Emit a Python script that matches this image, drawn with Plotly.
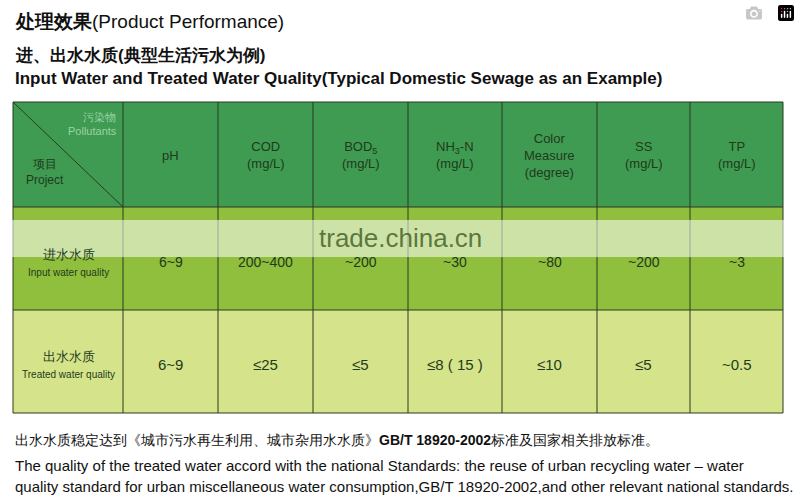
import plotly.graph_objects as go

# table content
pollutants = ["pH", "COD<br>(mg/L)", "BOD<sub>5</sub><br>(mg/L)", "NH<sub>3</sub>-N<br>(mg/L)",
              "Color<br>Measure<br>(degree)", "SS<br>(mg/L)", "TP<br>(mg/L)"]
row_labels = ["进水水质<br><span style='font-size:10px'>Input water quality</span>",
              "出水水质<br><span style='font-size:10px'>Treated water quality</span>"]
input_values = ["6~9", "200~400", "~200", "~30", "~80", "~200", "~3"]
treated_values = ["6~9", "≤25", "≤5", "≤8 ( 15 )", "≤10", "≤5", "~0.5"]

col_edges = [13, 123, 218, 313, 408, 502, 597, 690, 783]
row_edges = [102, 207, 310, 413]
row_colors = ["#3f9a52", "#8fbf3c", "#d5e48a"]
font = "Liberation Sans, Arial"
narrow = "Liberation Sans Narrow, Liberation Sans, Arial"

fig = go.Figure()

for r in range(3):
    fig.add_shape(type="rect", x0=col_edges[0], x1=col_edges[-1], y0=row_edges[r], y1=row_edges[r + 1],
                  fillcolor=row_colors[r], line=dict(width=0), layer="below")
for x in col_edges:
    fig.add_shape(type="line", x0=x, x1=x, y0=row_edges[0], y1=row_edges[-1], line=dict(color="#2b3a22", width=1))
for y in row_edges:
    fig.add_shape(type="line", x0=col_edges[0], x1=col_edges[-1], y0=y, y1=y, line=dict(color="#2b3a22", width=1))
# diagonal in corner cell
fig.add_shape(type="line", x0=col_edges[0], y0=row_edges[0], x1=col_edges[1], y1=row_edges[1],
              line=dict(color="#2b3a22", width=1))

ann = []
def txt(x, y, t, size=14, color="#1f3a1c", anchor="center", family=font, **kw):
    ann.append(dict(x=x, y=y, text=t, showarrow=False, xanchor=anchor, yanchor="middle",
                    font=dict(size=size, color=color, family=family), **kw))

txt(119, 124, "污染物<br>Pollutants", 11, "#9ad4a4", "right", align="right")
txt(45, 172, "项目<br>Project", 12, "#1f3a1c", "center")

for i, p in enumerate(pollutants):
    cx = (col_edges[i + 1] + col_edges[i + 2]) / 2
    txt(cx, 155, p, 13, "#1f3a1c")
    txt(cx, 262, input_values[i], 14, "#1f3a1c")
    txt(cx, 364, treated_values[i], 15, "#1f3a1c")
txt(68, 262, row_labels[0], 13, family=narrow)
txt(68, 364, row_labels[1], 13, family=narrow)

# watermark band
fig.add_shape(type="rect", x0=0, x1=800, y0=220, y1=257, fillcolor="rgba(255,255,255,0.55)", line=dict(width=0))
txt(400, 238, "trade.china.cn", 26, "rgba(60,90,30,0.8)")

# titles
txt(13, 21, "<b>处理效果</b>(Product Performance)", 19, "#111", "left")
txt(13, 55, "<b>进、出水水质(典型生活污水为例)</b>", 17, "#111", "left")
txt(13, 78, "<b>Input Water and Treated Water Quality(Typical Domestic Sewage as an Example)</b>", 17, "#111", "left")

# footnotes
txt(13, 440, "出水水质稳定达到《城市污水再生利用、城市杂用水水质》<b>GB/T 18920-2002</b>标准及国家相关排放标准。", 14, "#111", "left", family=narrow)
txt(13, 465, "The quality of the treated water accord with the national Standards: the reuse of urban recycling water – water", 15, "#111", "left", family=narrow)
txt(13, 486, "quality standard for urban miscellaneous water consumption,GB/T 18920-2002,and other relevant national standards.", 15, "#111", "left", family=narrow)

fig.update_layout(
    width=800, height=502,
    margin=dict(l=0, r=0, t=0, b=0),
    paper_bgcolor="white", plot_bgcolor="white",
    xaxis=dict(range=[0, 800], visible=False, fixedrange=True),
    yaxis=dict(range=[502, 0], visible=False, fixedrange=True),
    annotations=ann,
    showlegend=False,
)

fig.write_html("out.html", post_script="document.body.style.margin='0';document.body.style.overflow='hidden';")
